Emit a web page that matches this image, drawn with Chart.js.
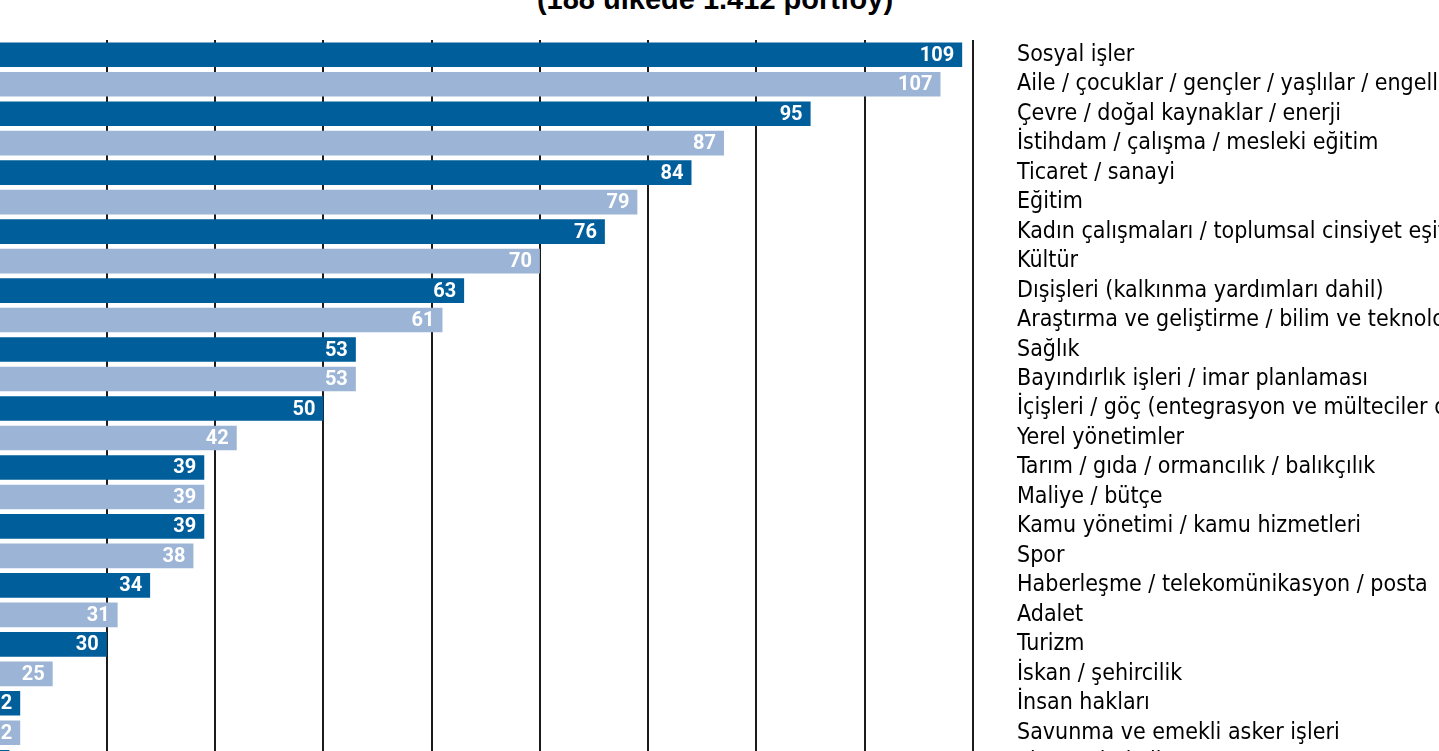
<!DOCTYPE html>
<html>
<head>
<meta charset="utf-8">
<script src="https://cdn.jsdelivr.net/npm/chart.js@4/dist/chart.umd.min.js"></script>
<style>
  body { margin: 0; background: #fff; overflow: hidden; width: 1439px; height: 751px; position: relative; }
  #title { position: absolute; left: 0; width: 1430px; top: -15px; text-align: center;
           font: bold 29px 'Liberation Sans', Arial, sans-serif; line-height: 29px; color: #000; }
  #wrap { position: absolute; left: -218px; top: 0; }
</style>
</head>
<body>
<div id="title">(188 ülkede 1.412 portföy)</div>
<div id="wrap"><canvas id="portfolioChart" width="1791" height="777"></canvas></div>
<script>
  // categories (top to bottom)
  var categories = [
    "Sosyal işler",
    "Aile / çocuklar / gençler / yaşlılar / engelliler",
    "Çevre / doğal kaynaklar / enerji",
    "İstihdam / çalışma / mesleki eğitim",
    "Ticaret / sanayi",
    "Eğitim",
    "Kadın çalışmaları / toplumsal cinsiyet eşitliği",
    "Kültür",
    "Dışişleri (kalkınma yardımları dahil)",
    "Araştırma ve geliştirme / bilim ve teknoloji",
    "Sağlık",
    "Bayındırlık işleri / imar planlaması",
    "İçişleri / göç (entegrasyon ve mülteciler dahil)",
    "Yerel yönetimler",
    "Tarım / gıda / ormancılık / balıkçılık",
    "Maliye / bütçe",
    "Kamu yönetimi / kamu hizmetleri",
    "Spor",
    "Haberleşme / telekomünikasyon / posta",
    "Adalet",
    "Turizm",
    "İskan / şehircilik",
    "İnsan hakları",
    "Savunma ve emekli asker işleri",
    "Ekonomi / kalkınma"
  ];

  // number of portfolios held by women
  var portfolios = [109, 107, 95, 87, 84, 79, 76, 70, 63, 61, 53, 53, 50, 42, 39, 39, 39, 38, 34, 31, 30, 25, 22, 22, 21];

  var darkBlue = '#005e9b';
  var lightBlue = '#9cb5d6';

  //alternate the two blues row by row
  var barColors = portfolios.map(function(v, i){ return i % 2 == 0 ? darkBlue : lightBlue; });

  //white value inside the end of each bar
  var valueLabels = {
    id: 'valueLabels',
    afterDatasetsDraw: function(chart){
      var ctx = chart.ctx;
      var meta = chart.getDatasetMeta(0);
      ctx.save();
      ctx.fillStyle = '#fff';
      ctx.font = 'bold 20px Roboto, Arial, sans-serif';
      ctx.textAlign = 'right';
      ctx.textBaseline = 'middle';
      meta.data.forEach(function(bar, i){
        ctx.fillText(String(portfolios[i]), bar.x - 8, bar.y + 1);
      });
      ctx.restore();
    }
  };

  var ctx = document.getElementById('portfolioChart');
  var chart = new Chart(ctx, {
    type: 'bar',
    data: {
      labels: categories,
      datasets: [{
        data: portfolios,
        backgroundColor: barColors,
        borderWidth: 0,
        barPercentage: 0.835,
        categoryPercentage: 1
      }]
    },
    options: {
      indexAxis: 'y',
      responsive: false,
      animation: false,
      layout: { padding: { top: 40, left: 0, right: 0, bottom: 0 } },
      plugins: { legend: { display: false }, tooltip: { enabled: false } },
      scales: {
        x: {
          type: 'linear',
          position: 'bottom',
          min: 0,
          max: 110,
          ticks: { display: false, stepSize: 10 },
          grid: { color: '#1b1b1b', lineWidth: 2, drawTicks: false },
          border: { display: false },
          afterFit: function(s){ s.height = 0; s.paddingLeft = 0; s.paddingRight = 0; }
        },
        y: {
          type: 'category',
          position: 'right',
          grid: { display: false, drawTicks: false },
          border: { display: false },
          ticks: {
            autoSkip: false,
            padding: 44,
            color: '#000',
            font: { family: "'Liberation Sans Narrow', 'DejaVu Sans Condensed', sans-serif", size: 23 }
          },
          afterFit: function(s){ s.width = 600; s.paddingTop = 0; s.paddingBottom = 0; }
        }
      }
    },
    plugins: [valueLabels]
  });
</script>
</body>
</html>
